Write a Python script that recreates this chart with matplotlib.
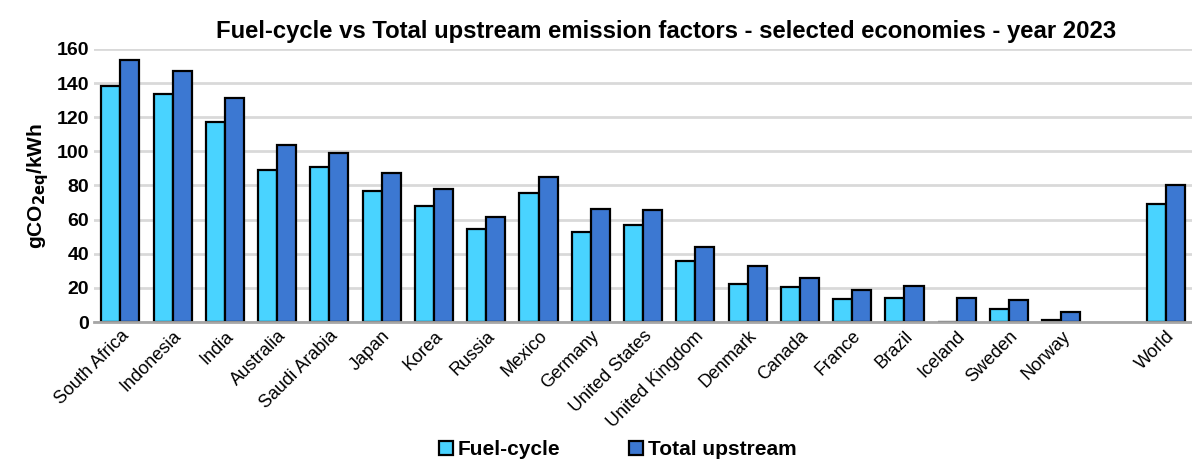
import matplotlib.pyplot as plt
import numpy as np

paises = ["South Africa", "Indonesia", "India", "Australia", "Saudi Arabia",
          "Japan", "Korea", "Russia", "Mexico", "Germany", "United States",
          "United Kingdom", "Denmark", "Canada", "France", "Brazil", "Iceland",
          "Sweden", "Norway", "", "World"]
fuel_cycle = [138.5, 133.5, 117, 89, 91, 76.5, 68, 54.5, 75.5, 53, 57,
              36, 22, 20.5, 13.5, 14, 0.3, 7.5, 1, np.nan, 69]
total_upstream = [153.5, 147, 131.5, 104, 99, 87.5, 78, 61.5, 85, 66, 65.5,
                  44, 33, 26, 18.5, 21, 14, 13, 6, np.nan, 80]
yticks = [0, 20, 40, 60, 80, 100, 120, 140, 160]

plt.rcParams['font.family'] = ['Liberation Sans', 'DejaVu Sans']

fig = plt.figure(figsize=(11.92, 4.62), dpi=100)
ax = fig.add_axes([0.079, 0.303, 0.921, 0.591])

x = np.arange(len(paises))
w = 0.365
ax.bar(x - w/2, fuel_cycle, w, color="#49D3FF", edgecolor="black", linewidth=1.6,
       label="Fuel-cycle", zorder=3)
ax.bar(x + w/2, total_upstream, w, color="#3C78D2", edgecolor="black", linewidth=1.6,
       label="Total upstream", zorder=3)

ax.set_xlim(-0.5, len(paises) - 0.5)
ax.set_ylim(0, 160)
ax.set_yticks(yticks)
ax.set_yticklabels([str(t) for t in yticks], fontsize=14, fontweight="bold")
ax.set_xticks(x)
ax.set_xticklabels(paises, rotation=45, ha="right", rotation_mode="anchor", fontsize=13)
ax.tick_params(axis="both", length=0)
ax.tick_params(axis="x", pad=4)
ax.grid(axis="y", color="#D9D9D9", linewidth=2, zorder=0)
for s in ["top", "right", "left"]:
    ax.spines[s].set_visible(False)
ax.spines["bottom"].set_color("#A6A6A6")
ax.spines["bottom"].set_linewidth(2)
ax.spines["bottom"].set_zorder(4)

ax.set_ylabel("gCO$_\\mathbf{2eq}$/kWh", fontsize=15, fontweight="bold")
ax.set_title("Fuel-cycle vs Total upstream emission factors - selected economies - year 2023",
             fontsize=17.2, fontweight="bold", pad=8, x=0.521)

leg = fig.legend(loc="lower center", bbox_to_anchor=(0.518, -0.035), ncol=2, frameon=False,
                 prop={"size": 15, "weight": "bold"}, handlelength=0.7, handleheight=0.7,
                 handletextpad=0.2, columnspacing=3.3)

fig.savefig("out.png", dpi=100)
